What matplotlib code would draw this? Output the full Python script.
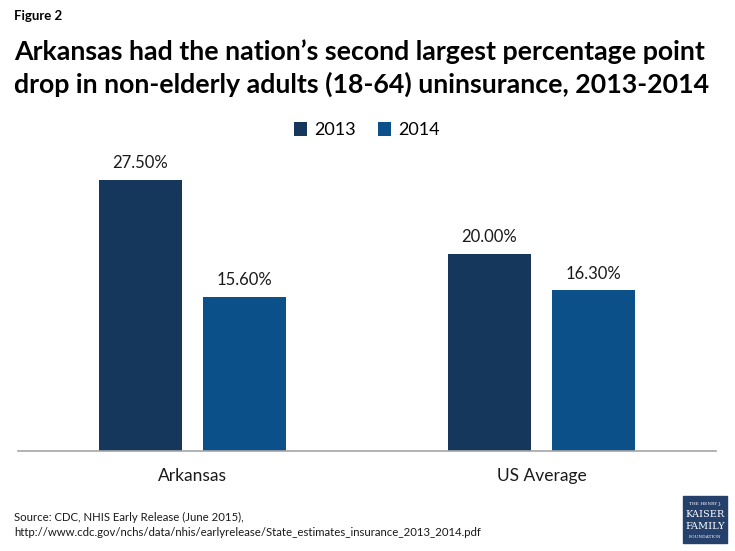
import matplotlib
matplotlib.use('Agg')
import matplotlib.pyplot as plt
from matplotlib.patches import Rectangle

categories = ["Arkansas", "US Average"]
years = ["2013", "2014"]
values_2013 = [27.5, 20.0]
values_2014 = [15.6, 16.3]
colors = {"2013": "#15375b", "2014": "#0b5089"}

plt.rcParams['font.family'] = ['Lato', 'DejaVu Sans']

fig = plt.figure(figsize=(7.35, 5.51), dpi=100)
ax = fig.add_axes([18 / 735, 100 / 551, 698 / 735, 295.6 / 551])

width = 0.235
offset = 0.149
xs = list(range(len(categories)))
for vals, yr, sign in [(values_2013, "2013", -1), (values_2014, "2014", 1)]:
    pos = [x + sign * offset for x in xs]
    bars = ax.bar(pos, vals, width, color=colors[yr], label=yr)
    for b, v in zip(bars, vals):
        ax.text(b.get_x() + b.get_width() / 2, v + 0.9, "%.2f%%" % v,
                ha='center', va='bottom', fontsize=12, color='#1a1a1a')

ax.set_xlim(-0.5, 1.5)
ax.set_ylim(0, 30)
ax.set_yticks([])
ax.set_xticks(xs)
ax.set_xticklabels(categories, fontsize=12.5, color='#1a1a1a')
ax.tick_params(axis='x', length=0, pad=12)
for s in ['top', 'right', 'left']:
    ax.spines[s].set_visible(False)
ax.spines['bottom'].set_color('#a6a6a6')
ax.spines['bottom'].set_linewidth(1.2)

ax.legend(loc='center', bbox_to_anchor=(0.5, 1.085), ncol=2, frameon=False,
          fontsize=13, handlelength=0.75, handleheight=0.75, handletextpad=0.4,
          columnspacing=1.2)

fig.text(14 / 735, 1 - 16 / 551, "Figure 2", fontsize=9.5, fontweight='bold', va='center')
fig.text(14 / 735, 1 - 68 / 551,
         "Arkansas had the nation\u2019s second largest percentage point\n"
         "drop in non-elderly adults (18-64) uninsurance, 2013-2014",
         fontsize=19.3, fontweight='bold', va='center', linespacing=1.35)
fig.text(14 / 735, 1 - 525 / 551,
         "Source: CDC, NHIS Early Release (June 2015),\n"
         "http://www.cdc.gov/nchs/data/nhis/earlyrelease/State_estimates_insurance_2013_2014.pdf",
         fontsize=8.2, va='center', linespacing=1.4, color='#1a1a1a')

# logo
lx, ly, lw, lh = 683 / 735, 1 - 543 / 551, 44 / 735, 47 / 551
fig.patches.append(Rectangle((lx, ly), lw, lh, transform=fig.transFigure,
                             color='#24406b', zorder=5))
cx = lx + lw / 2
fig.text(cx, ly + lh * 0.84, "THE HENRY J.", fontsize=3.2, color='white', ha='center',
         va='center', family='DejaVu Serif', zorder=6)
fig.text(cx, ly + lh * 0.6, "KAISER", fontsize=7, color='white', ha='center',
         va='center', family='DejaVu Serif', zorder=6)
fig.text(cx, ly + lh * 0.36, "FAMILY", fontsize=7, color='white', ha='center',
         va='center', family='DejaVu Serif', zorder=6)
fig.text(cx, ly + lh * 0.13, "FOUNDATION", fontsize=3.2, color='white', ha='center',
         va='center', family='DejaVu Serif', zorder=6)

fig.savefig("out.png", dpi=100)
